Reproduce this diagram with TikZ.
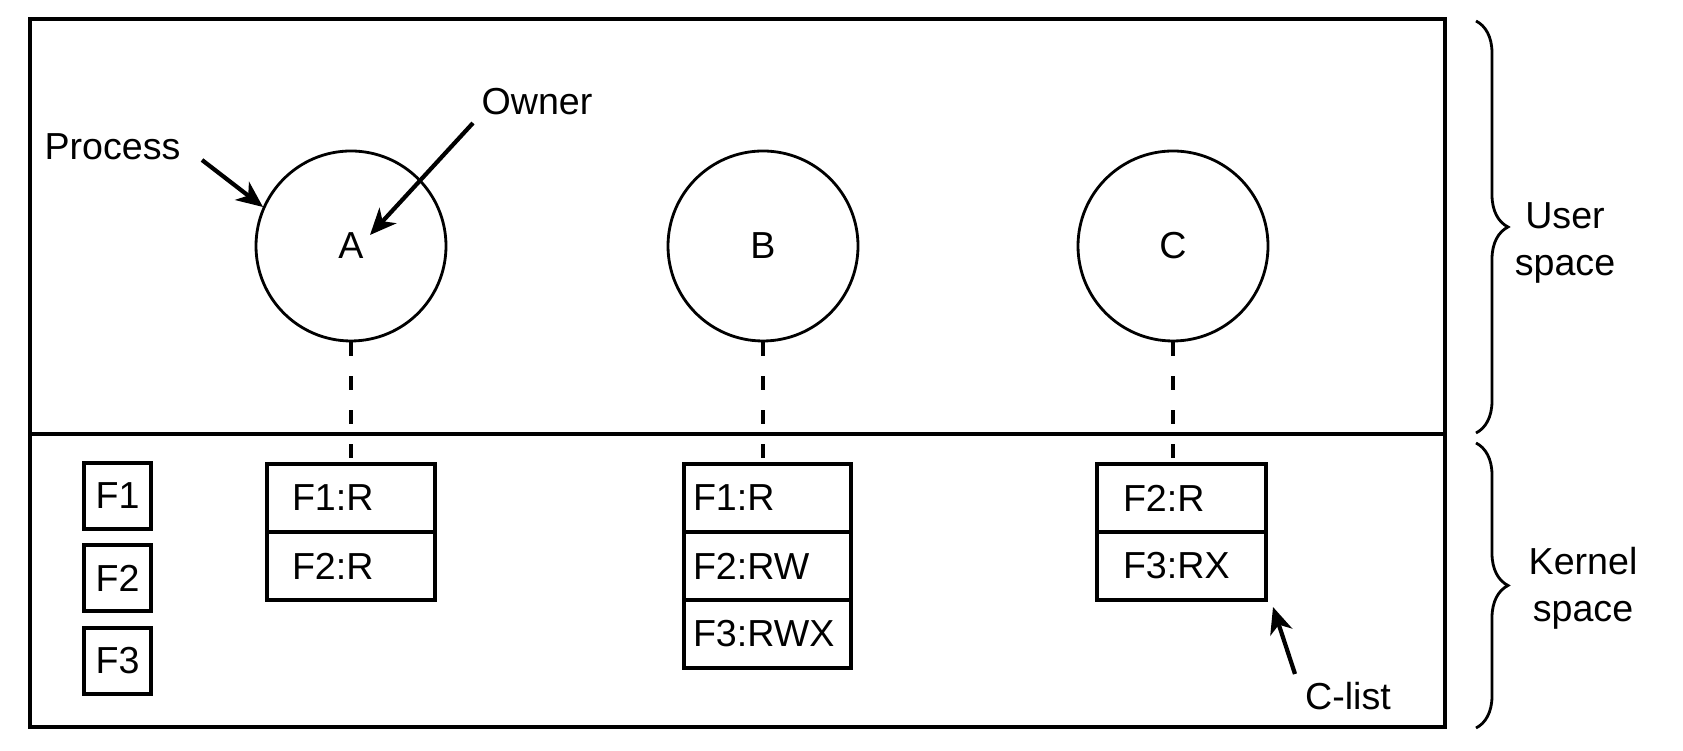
\documentclass[tikz,border=0pt]{standalone}
\usepackage{fontspec}
\setmainfont{Liberation Sans}
\usepackage{tikz}
\usetikzlibrary{arrows.meta, positioning, decorations.pathreplacing}

\tikzset{
	proc/.style={draw, circle, line width=0.8pt, minimum size=1.9cm, inner sep=0pt},
	crow/.style={draw, line width=0.9pt, outer sep=0pt, minimum height=0.68cm, align=left},
	crowA/.style={crow, text width=1.18cm, inner xsep=0.25cm},
	crowB/.style={crow, text width=1.49cm, inner xsep=0.09cm},
	crowC/.style={crow, text width=1.17cm, inner xsep=0.26cm},
	fobj/.style={draw, line width=0.9pt, minimum width=0.67cm, minimum height=0.66cm, inner sep=0pt},
	pointer/.style={line width=1.2pt, -{Stealth[length=7.5pt, width=6.5pt, inset=2.2pt]}},
	link/.style={line width=1.1pt, dash pattern=on 0.14cm off 0.2cm},
	spacebrace/.style={line width=0.8pt, decorate, decoration={brace, amplitude=0.32cm}},
	lbl/.style={inner sep=0pt, align=center}
}

\begin{document}
\begin{tikzpicture}[font=\fontsize{10.7pt}{13.3pt}\selectfont]
		\useasboundingbox (0,0) rectangle (16.83,7.51);
		\draw[line width=0.9pt] (0.30,0.24) rectangle (14.45,7.32);
		\draw[line width=0.9pt] (0.30,3.17) -- (14.45,3.17);

		\node[proc] (procA) at (3.51,5.05) {A};
		\node[proc] (procB) at (7.63,5.05) {B};
		\node[proc] (procC) at (11.73,5.05) {C};

		\node[crowA] (a1) at (3.51,2.53) {F1:R};
		\node[crowA, below=0pt of a1] (a2) {F2:R};
		\node[crowB] (b1) at (7.675,2.53) {F1:R};
		\node[crowB, below=0pt of b1] (b2) {F2:RW};
		\node[crowB, below=0pt of b2] (b3) {F3:RWX};
		\node[crowC] (c1) at (11.815,2.53) {F2:R};
		\node[crowC, below=0pt of c1] (c2) {F3:RX};

		\draw[link] (procA.south) -- (procA.south |- a1.north);
		\draw[link] (procB.south) -- (procB.south |- b1.north);
		\draw[link] (procC.south) -- (procC.south |- c1.north);

		\node[fobj] (f1) at (1.175,2.55) {F1};
		\node[fobj] (f2) at (1.175,1.73) {F2};
		\node[fobj] (f3) at (1.175,0.90) {F3};

		\node[lbl] (process) at (1.125,6.04) {Process};
		\node[lbl] (owner) at (5.37,6.49) {Owner};
		\node[lbl] (clist) at (13.48,0.55) {C-list};
		\coordinate (ptA) at (2.63,5.44);
		\coordinate (ownA) at (3.70,5.16);
		\coordinate (ptC) at (12.73,1.44);
		\draw[pointer] (2.02,5.91) -- (ptA);
		\draw[pointer] (4.73,6.28) -- (ownA);
		\draw[pointer] (12.95,0.77) -- (ptC);

		\draw[spacebrace] (14.76,7.30) -- (14.76,3.18);
		\draw[spacebrace] (14.76,3.08) -- (14.76,0.23);
		\node[lbl] (user) at (15.65,5.08) {User\\space};
		\node[lbl] (kernel) at (15.83,1.63) {Kernel\\space};
	\end{tikzpicture}
\end{document}
